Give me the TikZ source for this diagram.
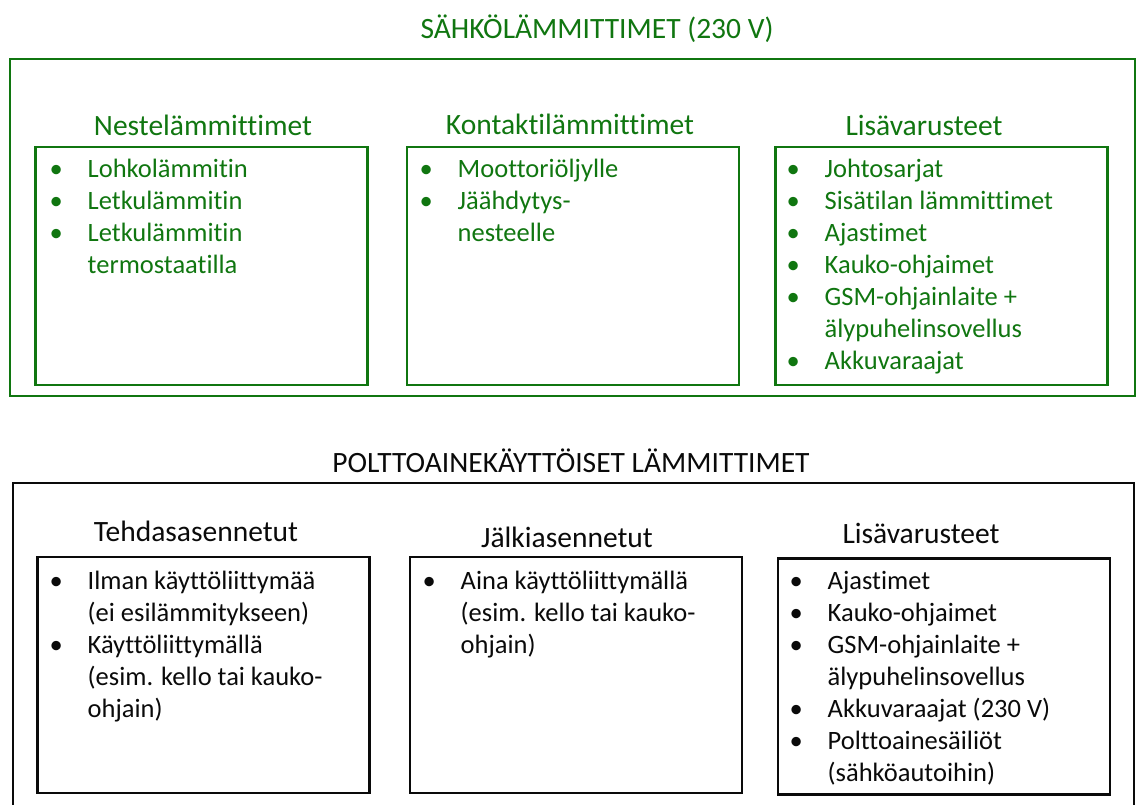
\documentclass[tikz,border=0pt]{standalone}
\usepackage{fontspec}
\setmainfont{Carlito}[Ligatures={NoCommon}]
\usetikzlibrary{positioning}
\definecolor{sgreen}{RGB}{16,118,16}
\definecolor{pblack}{RGB}{10,10,10}
\newcommand{\bul}{\textbullet}
\tikzset{
  outbox/.style={draw, line width=2.6pt, inner sep=0pt},
  inbox/.style={draw, line width=2.6pt, inner sep=0pt, minimum width=332pt},
  ttl/.style={font=\fontsize{29.5}{34}\selectfont},
  hdr/.style={font=\fontsize{29.5}{34}\selectfont},
  lst/.style={anchor=north west, inner sep=0pt, font=\fontsize{26.5}{32}\selectfont},
}

\begin{document}
\begin{tikzpicture}[x=1pt, y=-1pt]
  \useasboundingbox (0,0) rectangle (1137,805);
  % electric heaters
  \node[ttl, text=sgreen] (etitle) at (597,29) {SÄHKÖLÄMMITTIMET (230 V)};
  \node[outbox, draw=sgreen, minimum width=1125pt, minimum height=337pt] (eframe) at (572.5,227.5) {};
  \node[inbox, draw=sgreen, minimum height=238pt] (eneste) at (201.5,266) {};
  \node[inbox, draw=sgreen, minimum height=238pt] (ekont) at (573,266) {};
  \node[inbox, draw=sgreen, minimum height=238pt] (elisa) at (941.5,266) {};
  \node[hdr, text=sgreen] (hneste) at (203,125) {Nestelämmittimet};
  \node[hdr, text=sgreen] (hkont) at (570,124) {Kontaktilämmittimet};
  \node[hdr, text=sgreen] (helisa) at (924,125) {Lisävarusteet};
  \node[lst, text=sgreen] (lneste) at (49.5,155) {%
    \begin{tabular}{@{}p{38pt}@{}l@{}}
      \bul & Lohkolämmitin\\
      \bul & Letkulämmitin\\
      \bul & Letkulämmitin\\
           & termostaatilla
    \end{tabular}};
  \node[lst, text=sgreen] (lkont) at (419.5,155) {%
    \begin{tabular}{@{}p{38pt}@{}l@{}}
      \bul & Moottoriöljylle\\
      \bul & Jäähdytys-\\
           & nesteelle
    \end{tabular}};
  \node[lst, text=sgreen] (lelisa) at (786.5,155) {%
    \begin{tabular}{@{}p{38pt}@{}l@{}}
      \bul & Johtosarjat\\
      \bul & Sisätilan lämmittimet\\
      \bul & Ajastimet\\
      \bul & Kauko-ohjaimet\\
      \bul & GSM-ohjainlaite +\\
           & älypuhelinsovellus\\
      \bul & Akkuvaraajat
    \end{tabular}};

  % fuel heaters
  \node[ttl, text=pblack] (ptitle) at (571,461) {POLTTOAINEKÄYTTÖISET LÄMMITTIMET};
  \node[outbox, draw=pblack, minimum width=1121pt, minimum height=360pt] (pframe) at (573.5,663) {};
  \node[inbox, draw=pblack, minimum height=236pt] (ptehd) at (203.5,675) {};
  \node[inbox, draw=pblack, minimum height=236pt] (pjalk) at (576,675) {};
  \node[inbox, draw=pblack, minimum height=236pt] (plisa) at (944,676.5) {};
  \node[hdr, text=pblack] (htehd) at (196,531) {Tehdasasennetut};
  \node[hdr, text=pblack] (hjalk) at (567,537) {Jälkiasennetut};
  \node[hdr, text=pblack] (hplisa) at (921,533) {Lisävarusteet};
  \node[lst, text=pblack] (ltehd) at (49.5,567) {%
    \begin{tabular}{@{}p{38pt}@{}l@{}}
      \bul & Ilman käyttöliittymää\\
           & (ei esilämmitykseen)\\
      \bul & Käyttöliittymällä\\
           & (esim. kello tai kauko-\\
           & ohjain)
    \end{tabular}};
  \node[lst, text=pblack] (ljalk) at (422.5,567) {%
    \begin{tabular}{@{}p{38pt}@{}l@{}}
      \bul & Aina käyttöliittymällä\\
           & (esim. kello tai kauko-\\
           & ohjain)
    \end{tabular}};
  \node[lst, text=pblack] (lplisa) at (789.5,567) {%
    \begin{tabular}{@{}p{38pt}@{}l@{}}
      \bul & Ajastimet\\
      \bul & Kauko-ohjaimet\\
      \bul & GSM-ohjainlaite +\\
           & älypuhelinsovellus\\
      \bul & Akkuvaraajat (230 V)\\
      \bul & Polttoainesäiliöt\\
           & (sähköautoihin)
    \end{tabular}};
\end{tikzpicture}
\end{document}
